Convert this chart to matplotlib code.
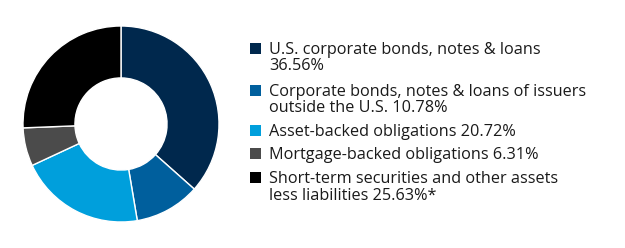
import matplotlib
matplotlib.use("Agg")
import matplotlib.pyplot as plt

categories = [
    "U.S. corporate bonds, notes & loans\n36.56%",
    "Corporate bonds, notes & loans of issuers\noutside the U.S. 10.78%",
    "Asset-backed obligations 20.72%",
    "Mortgage-backed obligations 6.31%",
    "Short-term securities and other assets\nless liabilities 25.63%*",
]
values = [36.56, 10.78, 20.72, 6.31, 25.63]
colors = ["#00284d", "#005f9d", "#009fdc", "#4b4b4b", "#000000"]

W, H = 625, 248
fig = plt.figure(figsize=(W / 100, H / 100), dpi=100)

cx, cy, r = 121, 124, 98
ax = fig.add_axes([(cx - r) / W, (H - cy - r) / H, 2 * r / W, 2 * r / H])
ax.pie(values, colors=colors, startangle=90, counterclock=False, radius=1,
       wedgeprops=dict(width=0.53, edgecolor="white", linewidth=1.0))
ax.set_xlim(-1, 1)
ax.set_ylim(-1, 1)
ax.set_aspect("equal")
ax.axis("off")

font = "Open Sans"
fs = 11.7
ys = [48, 90, 130, 153, 177]
sq = 11
for lab, col, y in zip(categories, colors, ys):
    fig.patches.append(plt.Rectangle(((250) / W, (H - y - sq / 2) / H), sq / W, sq / H,
                                     transform=fig.transFigure, facecolor=col,
                                     edgecolor="none"))
    fig.text(269 / W, (H - y) / H, lab.split("\n")[0], ha="left", va="center_baseline",
             fontsize=fs, family=font, color="#1a1a1a")
    if "\n" in lab:
        fig.text(269 / W, (H - y - 16.5) / H, lab.split("\n")[1], ha="left",
                 va="center_baseline", fontsize=fs, family=font, color="#1a1a1a")

fig.savefig("out.png", dpi=100)
